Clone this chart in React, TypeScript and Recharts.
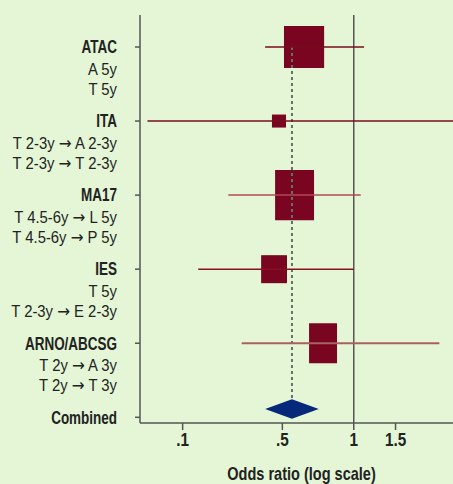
import React from 'react';
import {
  ComposedChart,
  XAxis,
  YAxis,
  ReferenceArea,
  ReferenceLine,
} from 'recharts';

// rows from top to bottom (index = y value)
const rowLabels = ['ATAC', 'ITA', 'MA17', 'IES', 'ARNO/ABCSG', 'Combined'];
const rowSubLabels = [
  ['A 5y', 'T 5y'],
  ['T 2-3y → A 2-3y', 'T 2-3y → T 2-3y'],
  ['T 4.5-6y → L 5y', 'T 4.5-6y → P 5y'],
  ['T 5y', 'T 2-3y → E 2-3y'],
  ['T 2y → A 3y', 'T 2y → T 3y'],
  [],
];

// study estimates (odds ratio) and 95% CI
const ciLow = [0.423, 0.135, 0.296, 0.221, 0.337];
const ciHigh = [1.105, 3.0, 1.07, 1.0, 2.296];
// weight boxes: extent on the OR axis and half height in rows
const boxLow = [0.508, 0.452, 0.466, 0.407, 0.648];
const boxHigh = [0.75, 0.518, 0.68, 0.523, 0.85];
const boxHalf = [0.284, 0.088, 0.338, 0.189, 0.27];

// pooled estimate
const combinedLow = 0.423;
const combinedEst = 0.549;
const combinedHigh = 0.712;
const combinedRow = 5;

const xTicks = [0.19, 0.5, 1, 1.5];
const xTickLabels = ['.1', '.5', '1', '1.5'];

const BG = '#e4f6d6';
const BOX = '#7a0520';
const DIAMOND = '#05287a';
const AXIS = '#555';
const TEXT = '#222';
const FONT = "'Liberation Sans', Arial, sans-serif";
const ciColors = ['#7a0c1e', '#7a0c1e', '#b04a55', '#86121f', '#a86060'];
const ciWidths = [1.5, 1.5, 1.5, 1.5, 2];

// horizontally condensed text (stand-in for a condensed Helvetica)
function CondText({ x, y, sx, anchor, size, bold, dy, children }: any) {
  return (
    <text
      transform={`translate(${x},${y}) scale(${sx},1)`}
      dy={dy}
      textAnchor={anchor}
      fontSize={size}
      fontWeight={bold ? 'bold' : 'normal'}
      fill={TEXT}
    >
      {children}
    </text>
  );
}

function withArrow(s: string) {
  const parts = s.split('→');
  if (parts.length < 2) return s;
  return [
    parts[0],
    <tspan key="a" fontFamily="'DejaVu Sans'" fontSize={17}>→</tspan>,
    parts[1],
  ];
}

function RowTick({ x, y, payload }: any) {
  const i = payload.value as number;
  return (
    <g>
      <CondText x={x} y={y} sx={0.77} anchor="end" size={17.5} bold dy="0.36em">
        {rowLabels[i]}
      </CondText>
      {rowSubLabels[i].map((s, k) => (
        <CondText key={s} x={x} y={y + 22 + k * 20} sx={0.9} anchor="end" size={16.5} dy="0.36em">
          {withArrow(s)}
        </CondText>
      ))}
    </g>
  );
}

function OddsTick({ x, y, payload }: any) {
  return (
    <CondText x={x} y={y} sx={0.85} anchor="middle" size={18} bold dy="0.71em">
      {xTickLabels[xTicks.indexOf(payload.value)]}
    </CondText>
  );
}

function AxisTitle({ viewBox }: any) {
  const { x, y, width, height } = viewBox;
  return (
    <CondText x={x + width / 2 + 5} y={y + height - 4} sx={0.83} anchor="middle" size={17.5} bold>
      Odds ratio (log scale)
    </CondText>
  );
}

function Diamond({ x, y, width, height }: any) {
  const cx = x + width / 2;
  const cy = y + height / 2;
  const pts = `${x},${cy} ${cx},${y} ${x + width},${cy} ${cx},${y + height}`;
  return <polygon points={pts} fill={DIAMOND} />;
}

export default function App() {
  return (
    <div style={{ position: 'fixed', left: 0, top: 0, width: 453, height: 484, background: BG, fontFamily: FONT }}>
      <ComposedChart
        width={453}
        height={484}
        data={[]}
        margin={{ top: 15, right: 0, bottom: 0, left: 0 }}
      >
        <XAxis
          type="number"
          dataKey="x"
          scale="log"
          domain={[0.1256, 2.62]}
          allowDataOverflow
          ticks={xTicks}
          height={61}
          tickSize={7}
          tickMargin={3}
          stroke={AXIS}
          strokeWidth={1.5}
          tick={<OddsTick />}
          label={<AxisTitle />}
        />
        <YAxis
          type="number"
          dataKey="y"
          domain={[-0.432, 5.077]}
          allowDataOverflow
          reversed
          ticks={[0, 1, 2, 3, 4, 5]}
          width={140}
          tickSize={5}
          tickMargin={18}
          stroke={AXIS}
          strokeWidth={1.5}
          tick={<RowTick />}
        />

        <ReferenceLine x={1} stroke={AXIS} strokeWidth={1.5} />
        <ReferenceLine
          segment={[
            { x: combinedEst, y: 0 },
            { x: combinedEst, y: combinedRow - 0.243 },
          ]}
          stroke="#66706a"
          strokeWidth={2}
          strokeDasharray="3 3"
        />

        {ciLow.map((lo, i) => (
          <ReferenceLine
            key={`ci-${i}`}
            segment={[
              { x: lo, y: i },
              { x: ciHigh[i], y: i },
            ]}
            stroke={ciColors[i]}
            strokeWidth={ciWidths[i]}
            ifOverflow="visible"
          />
        ))}

        {boxLow.map((lo, i) => (
          <ReferenceArea
            key={`box-${i}`}
            x1={lo}
            x2={boxHigh[i]}
            y1={i - boxHalf[i]}
            y2={i + boxHalf[i]}
            fill={BOX}
            fillOpacity={1}
            stroke="none"
          />
        ))}

        <ReferenceArea
          x1={combinedLow}
          x2={combinedHigh}
          y1={combinedRow - 0.243}
          y2={combinedRow + 0.019}
          shape={<Diamond />}
        />
      </ComposedChart>
    </div>
  );
}
